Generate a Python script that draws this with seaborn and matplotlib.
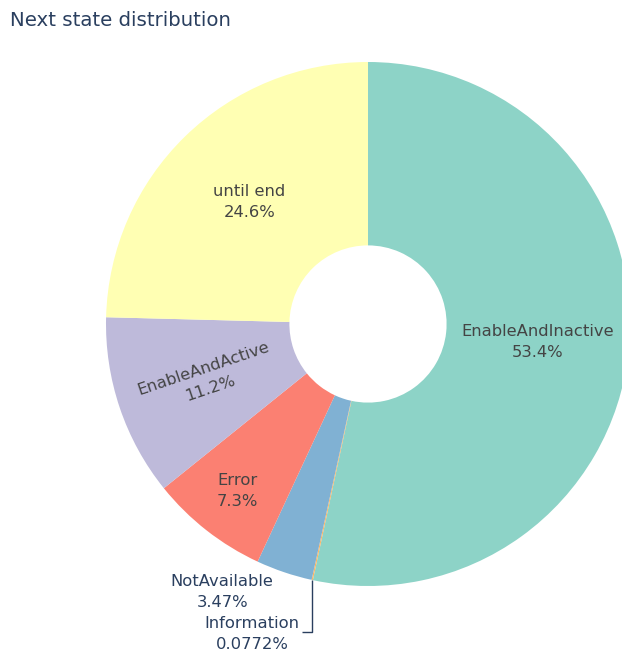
import numpy as np
import matplotlib
matplotlib.use("Agg")
import matplotlib.pyplot as plt
import seaborn as sns

# Share of each next state (percent), in clockwise drawing order from 12 o'clock
states = ["EnableAndInactive", "Information", "NotAvailable", "Error", "EnableAndActive", "until end"]
shares = [53.4, 0.0772, 3.47, 7.3, 11.2, 24.6]
share_labels = ["53.4%", "0.0772%", "3.47%", "7.3%", "11.2%", "24.6%"]

sns.set_theme(style="white")
plt.rcParams["font.family"] = ["DejaVu Sans"]

set3 = sns.color_palette("Set3", 6).as_hex()
# teal, orange, blue, salmon, lavender, yellow
colors = [set3[0], set3[5], set3[4], set3[3], set3[2], set3[1]]

W, H = 622, 653
fig = plt.figure(figsize=(W / 100, H / 100), dpi=100)
fig.patch.set_facecolor("white")

cx, cy, R = 368, 324, 262
ax = fig.add_axes([(cx - R) / W, (H - cy - R) / H, 2 * R / W, 2 * R / H])
ax.axis("off")

hole = 0.30
wedges, _ = ax.pie(
    shares, colors=colors, startangle=90, counterclock=False,
    radius=1.0, wedgeprops=dict(width=1.0 - hole, linewidth=0),
    frame=False,
)
ax.set_xlim(-1, 1)
ax.set_ylim(-1, 1)
ax.set_aspect("auto")

inside_color = "#444444"
outside_color = "#2a3f5f"
fs = 11.8
ls = 1.55

def mid_angle(w):
    return np.deg2rad((w.theta1 + w.theta2) / 2)

# Inside labels: radial factor and rotation per slice
inside = {"EnableAndInactive": (0.65, 0), "until end": (0.65, 0),
          "EnableAndActive": (0.65, None), "Error": (0.81, 0)}
for w, name, lab in zip(wedges, states, share_labels):
    if name not in inside:
        continue
    r, rot = inside[name]
    a = mid_angle(w)
    if rot is None:
        rot = np.rad2deg(a) - 180
    ax.text(r * np.cos(a), r * np.sin(a), f"{name}\n{lab}", ha="center", va="center",
            color=inside_color, fontsize=fs, rotation=rot, linespacing=ls,
            rotation_mode="anchor")

# Outside labels for the thin slices
i_na = states.index("NotAvailable")
ax.text(-0.557, -1.023, f"{states[i_na]}\n{share_labels[i_na]}", ha="center", va="center",
        color=outside_color, fontsize=fs, linespacing=ls - 0.05, clip_on=False)

i_inf = states.index("Information")
a = mid_angle(wedges[i_inf])
x0, y0 = np.cos(a), np.sin(a)
ax.plot([x0, x0, x0 - 0.04], [y0, -1.176, -1.176], color=outside_color, lw=1.0,
        clip_on=False, solid_capstyle="butt")
ax.text(-0.443, -1.183, f"{states[i_inf]}\n{share_labels[i_inf]}", ha="center", va="center",
        color=outside_color, fontsize=fs, linespacing=ls - 0.05, clip_on=False)

fig.text(10 / W, 1 - 21 / H, "Next state distribution", ha="left", va="center",
         color=outside_color, fontsize=14.2)

fig.savefig("out.png", dpi=100)
